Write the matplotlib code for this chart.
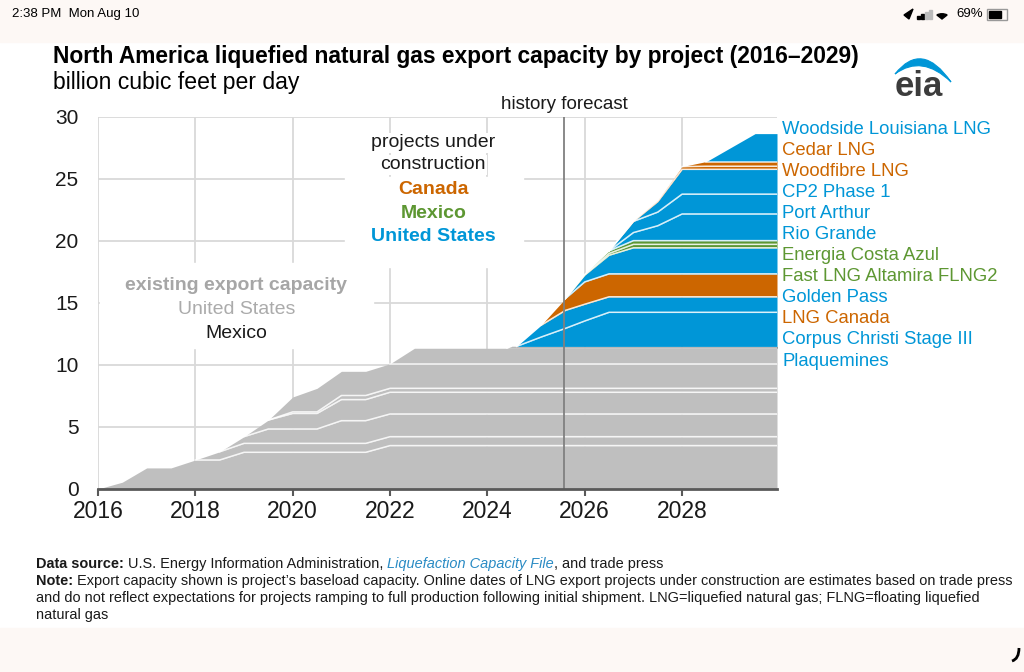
import numpy as np
import matplotlib
matplotlib.use('Agg')
import matplotlib.pyplot as plt
from matplotlib import font_manager
from matplotlib.patches import Rectangle, PathPatch, Polygon, Wedge
from matplotlib.path import Path

# existing export capacity, billion cubic feet per day (stack order bottom -> top)
ex_years = [2016.0, 2016.5, 2017.0, 2017.5, 2018.0, 2018.5, 2019.0, 2019.5, 2020.0,
            2020.5, 2021.0, 2021.5, 2022.0, 2022.5, 2024.4, 2024.5, 2029.95]
sabine_pass = [0, 0.55, 1.7, 1.7, 2.34, 2.34, 2.96, 2.96, 2.96, 2.96, 2.96, 2.96, 3.5, 3.5, 3.5, 3.5, 3.5]
cove_point = [0, 0, 0, 0, 0, 0.66, 0.72, 0.72, 0.72, 0.72, 0.72, 0.72, 0.72, 0.72, 0.72, 0.72, 0.72]
corpus_christi = [0, 0, 0, 0, 0, 0, 0.54, 1.16, 1.16, 1.16, 1.83, 1.83, 1.83, 1.83, 1.83, 1.83, 1.83]
cameron = [0, 0, 0, 0, 0, 0, 0, 0.72, 1.25, 1.25, 1.7, 1.7, 1.75, 1.75, 1.75, 1.75, 1.75]
elba_island = [0, 0, 0, 0, 0, 0, 0, 0, 0.13, 0.13, 0.33, 0.33, 0.32, 0.32, 0.32, 0.32, 0.32]
freeport = [0, 0, 0, 0, 0, 0, 0, 0, 1.2, 1.9, 1.95, 1.95, 1.98, 1.98, 1.98, 1.98, 1.98]
calcasieu_pass = [0, 0, 0, 0, 0, 0, 0, 0, 0, 0, 0, 0, 0, 1.25, 1.25, 1.25, 1.25]
altamira_flng1 = [0, 0, 0, 0, 0, 0, 0, 0, 0, 0, 0, 0, 0, 0, 0, 0.15, 0.15]

# projects under construction (stacked on top of existing capacity)
fc_years = [2024.6, 2025.1, 2025.6, 2026.0, 2026.5, 2027.0, 2027.5, 2028.0, 2028.5, 2029.5, 2029.95]
plaquemines = [0, 0.75, 1.45, 2.05, 2.75, 2.75, 2.75, 2.75, 2.75, 2.75, 2.75]
cc_stage3 = [0, 0.95, 1.45, 1.35, 1.25, 1.25, 1.25, 1.25, 1.25, 1.25, 1.25]
lng_canada = [0, 0, 0.95, 1.8, 1.85, 1.85, 1.85, 1.85, 1.85, 1.85, 1.85]
golden_pass = [0, 0, 0, 0.55, 1.5, 2.1, 2.1, 2.1, 2.1, 2.1, 2.1]
altamira_flng2 = [0, 0, 0, 0.05, 0.15, 0.28, 0.28, 0.28, 0.28, 0.28, 0.28]
costa_azul = [0, 0, 0, 0.05, 0.2, 0.3, 0.3, 0.3, 0.3, 0.3, 0.3]
rio_grande = [0, 0, 0, 0, 0, 0.65, 1.2, 2.15, 2.15, 2.15, 2.15]
port_arthur = [0, 0, 0, 0, 0, 0.9, 1.1, 1.6, 1.6, 1.6, 1.6]
cp2_phase1 = [0, 0, 0, 0, 0, 0, 0.85, 2.0, 2.0, 2.0, 2.0]
woodfibre = [0, 0, 0, 0, 0, 0.05, 0.1, 0.22, 0.25, 0.25, 0.25]
cedar = [0, 0, 0, 0, 0, 0, 0, 0, 0.38, 0.38, 0.38]
woodside = [0, 0, 0, 0, 0, 0, 0, 0, 0, 2.25, 2.25]

GRAY = '#bfbfbf'
DARK = '#333333'
BLUE = '#0096d7'
ORANGE = '#cc6600'
GREEN = '#5d9732'

existing = [(sabine_pass, GRAY), (cove_point, GRAY), (corpus_christi, GRAY), (cameron, GRAY),
            (elba_island, GRAY), (freeport, GRAY), (calcasieu_pass, GRAY), (altamira_flng1, DARK)]
projects = [(plaquemines, BLUE), (cc_stage3, BLUE), (lng_canada, ORANGE), (golden_pass, BLUE),
            (altamira_flng2, GREEN), (costa_azul, GREEN), (rio_grande, BLUE), (port_arthur, BLUE),
            (cp2_phase1, BLUE), (woodfibre, ORANGE), (cedar, ORANGE), (woodside, BLUE)]

# right-hand labels, top -> bottom
label_names = ['Woodside Louisiana LNG', 'Cedar LNG', 'Woodfibre LNG', 'CP2 Phase 1', 'Port Arthur',
               'Rio Grande', 'Energia Costa Azul', 'Fast LNG Altamira FLNG2', 'Golden Pass',
               'LNG Canada', 'Corpus Christi Stage III', 'Plaquemines']
label_colors = [BLUE, ORANGE, ORANGE, BLUE, BLUE, BLUE, GREEN, GREEN, BLUE, ORANGE, BLUE, BLUE]

plt.rcParams['font.family'] = ['Liberation Sans', 'DejaVu Sans']

W, H = 1024, 672
fig = plt.figure(figsize=(W / 100, H / 100), dpi=100)
fig.patch.set_facecolor('white')


def fx(px):
    return px / W


def fy(py):
    return 1 - py / H


renderer = fig.canvas.get_renderer()


def fit_width(t, target):
    w = t.get_window_extent(renderer).width
    t.set_fontsize(t.get_fontsize() * target / w)


# phone status bar / bottom strip
fig.patches.append(Rectangle((0, fy(42)), 1, 42 / H, transform=fig.transFigure, color='#fdf8f5', zorder=0))
fig.patches.append(Rectangle((0, 0), 1, 44 / H, transform=fig.transFigure, color='#fdf8f5', zorder=0))
fig.text(fx(12), fy(14), '2:38 PM  Mon Aug 10', fontsize=9.5, va='center', color='black')
fig.text(fx(983), fy(14), '69%', fontsize=9.5, va='center', ha='right', color='black')
for i, hgt in enumerate([3, 5, 7, 9]):
    fig.patches.append(Rectangle((fx(917 + i * 4), fy(19)), 2.5 / W, hgt / H, transform=fig.transFigure,
                                 color='black' if i < 2 else '#bbbbbb'))
fig.patches.append(Wedge((fx(942), fy(19)), 8 / W, 50, 130, transform=fig.transFigure, color='black'))
fig.patches.append(Polygon([(fx(904), fy(15)), (fx(913), fy(9)), (fx(909), fy(19))], closed=True,
                           transform=fig.transFigure, color='black'))
fig.patches.append(Rectangle((fx(987), fy(20)), 20 / W, 11 / H, transform=fig.transFigure,
                             facecolor='none', edgecolor='#999999', lw=1))
fig.patches.append(Rectangle((fx(989), fy(18)), 12 / W, 7 / H, transform=fig.transFigure, color='black'))

# titles
t = fig.text(fx(53), fy(57), 'North America liquefied natural gas export capacity by project (2016\u20132029)',
             fontsize=15, weight='bold', va='center', color='black')
fit_width(t, 814)
t = fig.text(fx(53), fy(82), 'billion cubic feet per day', fontsize=15, va='center', color='black')
fit_width(t, 247)

# eia logo
fig.text(fx(919), fy(87), 'eia', fontsize=25, weight='bold', ha='center', va='center', color='#3c3c3c')
sw = [(895, 74), (922, 40), (951, 82), (922, 54), (895, 74)]
fig.patches.append(PathPatch(Path([(fx(a), fy(b)) for a, b in sw],
                                  [Path.MOVETO, Path.CURVE3, Path.CURVE3, Path.CURVE3, Path.CURVE3]),
                             transform=fig.transFigure, facecolor=BLUE, edgecolor=BLUE, lw=0.8))

# plot area
ax = fig.add_axes([fx(98), fy(489), 679 / W, 372 / H])
ax.set_facecolor('white')
ax.set_axisbelow(True)
ax.set_xlim(2016, 2029.95)
ax.set_ylim(0, 30)
ax.set_xticks(range(2016, 2029, 2))
ax.set_yticks(range(0, 31, 5))
ax.grid(True, color='#d9d9d9', lw=1.3)
for s in ['top', 'right', 'left']:
    ax.spines[s].set_visible(False)
ax.spines['bottom'].set_color('#595959')
ax.spines['bottom'].set_linewidth(2)
ax.spines['bottom'].set_zorder(5)
ax.tick_params(axis='y', length=0, pad=14, labelsize=15, labelcolor='#1a1a1a')
ax.tick_params(axis='x', length=5, width=1.5, color='#595959', pad=3, labelsize=16.5, labelcolor='#1a1a1a')

# white boxes behind annotation text
ax.add_patch(Rectangle((2021.08, 17.9), 3.66, 7.3, color='white', zorder=1))
ax.add_patch(Rectangle((2016.05, 11.37), 5.61, 6.85, color='white', zorder=1))


def stack(x, layers, base):
    x = np.asarray(x)
    lo = np.array(base, dtype=float)
    tops = []
    for vals, col in layers:
        hi = lo + np.asarray(vals, dtype=float)
        ax.fill_between(x, lo, hi, color=col, lw=0, zorder=2)
        tops.append(hi)
        lo = hi
    total = tops[-1]
    for top in tops[:-1]:
        inner = total - top > 1e-6
        keep = inner.copy()
        keep[1:] |= inner[:-1]
        keep[:-1] |= inner[1:]
        ax.plot(x, np.ma.masked_where(~keep, top), color='white', lw=1.1, alpha=0.85, zorder=3)
    return total


ex_total = stack(ex_years, existing, np.zeros(len(ex_years)))
stack(fc_years, projects, np.interp(fc_years, ex_years, ex_total))

ax.axvline(2025.58, color='#808080', lw=1.3, zorder=4)
ax.text(2025.58, 30.97, 'history forecast', ha='center', va='center', fontsize=13.5, color='#1a1a1a',
        clip_on=False)

# annotations
ann = dict(ha='center', va='center', fontsize=14, zorder=6)
ax.text(2022.89, 27.93, 'projects under', color='#1a1a1a',
        bbox=dict(facecolor='white', edgecolor='none', pad=1), **ann)
ax.text(2022.89, 26.13, 'construction', color='#1a1a1a',
        bbox=dict(facecolor='white', edgecolor='none', pad=1), **ann)
ax.text(2022.89, 24.17, 'Canada', color=ORANGE, weight='bold', **ann)
ax.text(2022.89, 22.23, 'Mexico', color=GREEN, weight='bold', **ann)
ax.text(2022.89, 20.35, 'United States', color=BLUE, weight='bold', **ann)
ax.text(2018.84, 16.4, 'existing export capacity', color='#a6a6a6', weight='bold', **ann)
ax.text(2018.84, 14.49, 'United States', color='#ababab', **ann)
ax.text(2018.84, 12.56, 'Mexico', color='#1a1a1a', **ann)

for name, col, py in zip(label_names, label_colors, np.linspace(129, 361, len(label_names))):
    fig.text(fx(782), fy(py), name, color=col, fontsize=13.3, va='center', ha='left')

# footnote
narrow = 'Liberation Sans Narrow'
try:
    font_manager.findfont(narrow, fallback_to_default=False)
    note_font = [narrow, 'DejaVu Sans']
except ValueError:
    note_font = ['Liberation Sans', 'DejaVu Sans']

note_lines = [
    [('Data source:', 'bold', 'normal', '#1a1a1a'),
     ('U.S. Energy Information Administration,', 'normal', 'normal', '#1a1a1a'),
     ('Liquefaction Capacity File', 'normal', 'italic', '#2a8bc4'),
     (', and trade press', 'normal', 'normal', '#1a1a1a')],
    [('Note:', 'bold', 'normal', '#1a1a1a'),
     ('Export capacity shown is project\u2019s baseload capacity. Online dates of LNG export projects '
      'under construction are estimates based on trade press', 'normal', 'normal', '#1a1a1a')],
    [('and do not reflect expectations for projects ramping to full production following initial '
      'shipment. LNG=liquefied natural gas; FLNG=floating liquefied', 'normal', 'normal', '#1a1a1a')],
    [('natural gas', 'normal', 'normal', '#1a1a1a')],
]

probe = fig.text(0, 0, ''.join(p[0] for p in note_lines[1]) + ' ', family=note_font, fontsize=10)
note_size = 10 * 974 / probe.get_window_extent(renderer).width
probe.remove()
space = note_size * 0.28 * 100 / 72

for row, py in zip(note_lines, [564, 581, 598, 615]):
    x = 36
    for k, (s, wgt, sty, col) in enumerate(row):
        if k > 0 and not s.startswith(','):
            x += space
        tt = fig.text(fx(x), fy(py), s, family=note_font, fontsize=note_size, weight=wgt, style=sty,
                      color=col, va='center')
        x += tt.get_window_extent(renderer).width

# small mark bottom right
fig.patches.append(PathPatch(Path([(fx(1019), fy(648)), (fx(1019), fy(659)), (fx(1012), fy(661))],
                                  [Path.MOVETO, Path.CURVE3, Path.CURVE3]),
                             transform=fig.transFigure, facecolor='none', edgecolor='black', lw=2))

fig.savefig('out.png', dpi=100)
